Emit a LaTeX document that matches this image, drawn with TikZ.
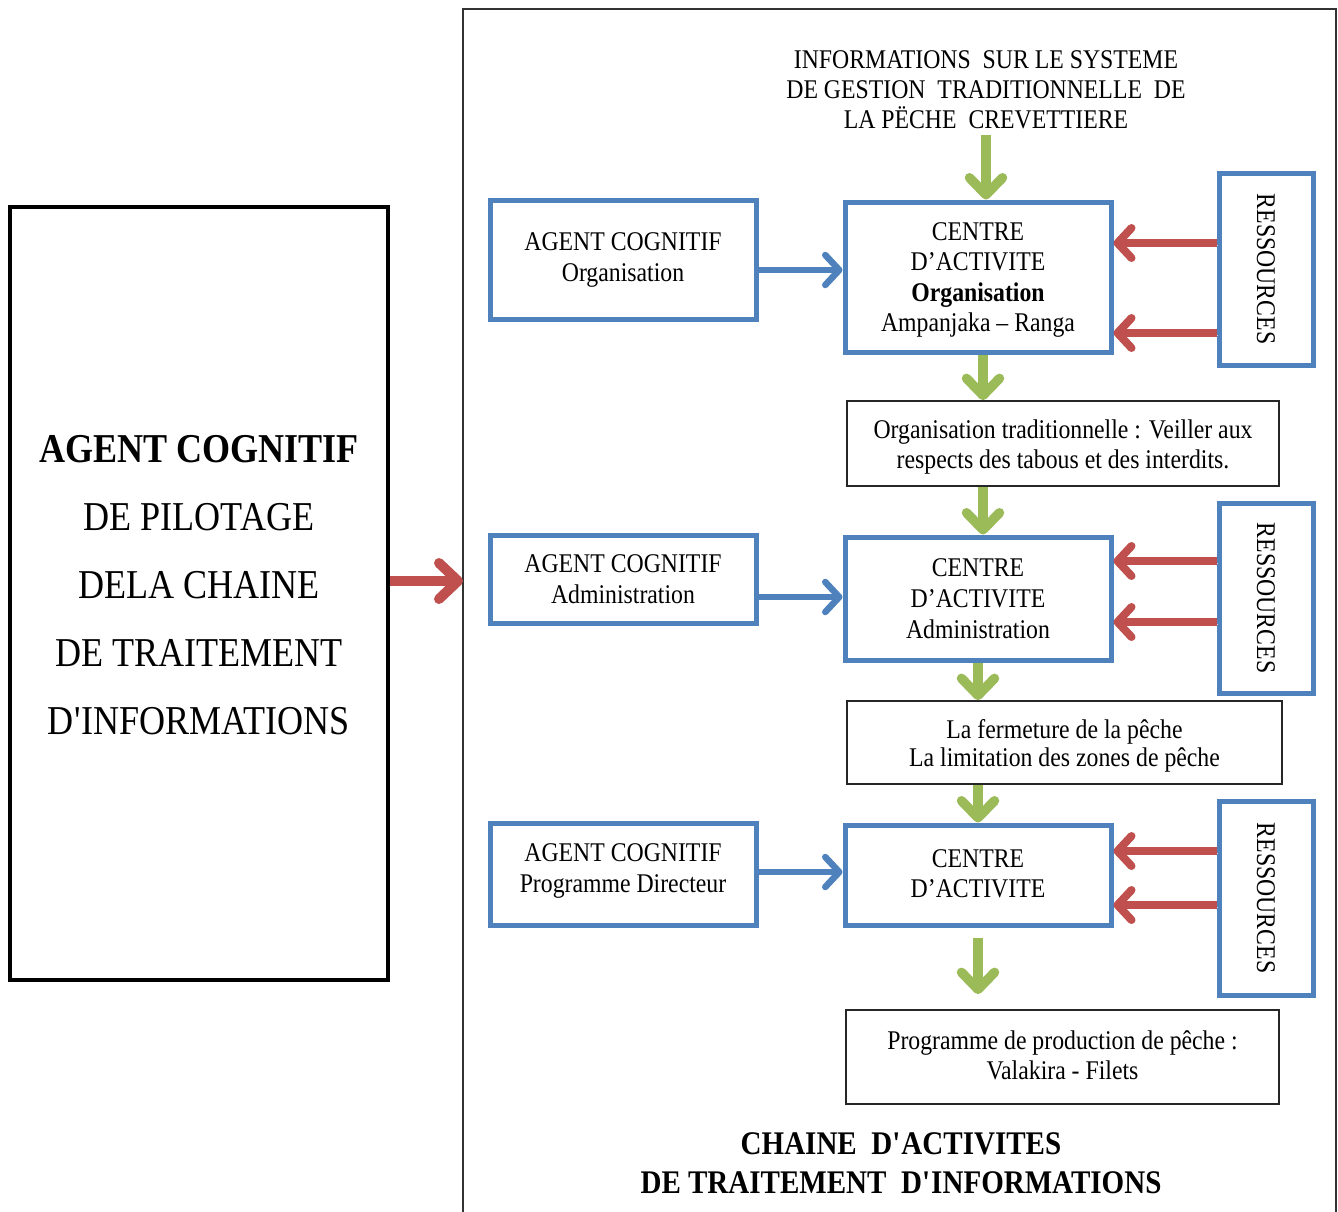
\documentclass[tikz,border=0pt]{standalone}
\usepackage{fontspec}
\setmainfont{Liberation Serif}[FakeStretch=0.88]
\usetikzlibrary{arrows.meta}
\definecolor{boxblue}{HTML}{4F81BD}
\definecolor{arrred}{HTML}{C0504D}
\definecolor{arrgreen}{HTML}{9BBB59}

\begin{document}
\begin{tikzpicture}[x=1pt,y=-1pt,
  bluebox/.style={draw=boxblue, line width=5pt, inner sep=0pt, align=center, fill=white,
                  font=\fontsize{27}{31}\selectfont},
  textbox/.style={draw=black!85, line width=1.8pt, inner sep=0pt, align=center,
                  font=\fontsize{27}{29.5}\selectfont},
  plain/.style={inner sep=0pt, align=center, font=\fontsize{27}{30}\selectfont},
  shade/.style={preaction={draw=black!18, transform canvas={shift={(1.5pt,-2pt)}}}},
  barb/.style={-{Straight Barb[length=14pt,width=30pt,line cap=round,line join=round]}},
  redarrow/.style={barb, shade, draw=arrred, line width=8pt},
  bluearrow/.style={barb, shade, draw=boxblue, line width=6.5pt},
  greenarrow/.style={-{Straight Barb[length=17pt,width=33pt,line cap=round,line join=round]},
                     shade, draw=arrgreen, line width=9.5pt},
  bigred/.style={-{Straight Barb[length=19pt,width=36pt,line cap=round,line join=round]},
                 shade, draw=arrred, line width=10pt},
]
\useasboundingbox (0,0) rectangle (1338,1211);

% outer frame of the activity chain (open at the bottom)
\draw[black!80, line width=1.8pt] (463,1230) -- (463,9) -- (1336,9) -- (1336,1230);

% piloting agent
\node[draw=black, line width=4pt, minimum width=378pt, minimum height=773pt,
      inner sep=0pt] (pilot) at (199,593.5) {};
\node[inner sep=0pt, align=center, font=\fontsize{41}{68}\selectfont] (pilott) at (199,585)
  {\textbf{AGENT COGNITIF}\\DE PILOTAGE\\DELA CHAINE\\DE TRAITEMENT\\D\textquotesingle INFORMATIONS};

% incoming information
\node[plain] (info) at (986,90)
  {INFORMATIONS\ \ SUR LE SYSTEME\\DE GESTION\ \ TRADITIONNELLE\ \ DE\\LA PËCHE\ \ CREVETTIERE};

% level 1 : organisation
\node[bluebox, minimum width=266pt, minimum height=119pt] (agorg) at (623,260)
  {AGENT COGNITIF\\Organisation};
\node[bluebox, minimum width=266pt, minimum height=150pt] (corg) at (978,277) {};
\node[inner sep=0pt, align=center, font=\fontsize{27}{30.5}\selectfont] (corgt) at (978,280)
  {CENTRE\\D’ACTIVITE\\\textbf{Organisation}\\Ampanjaka – Ranga};
\node[bluebox, minimum width=94pt, minimum height=192pt] (res1) at (1266,269) {};
\node[plain, rotate=-90] (res1t) at (res1) {RESSOURCES};
\node[textbox, minimum width=432pt, minimum height=85pt] (t1) at (1063,443.5) {};
\node[inner sep=0pt, align=center, font=\fontsize{27}{29.5}\selectfont] (t1t) at (1063,447)
  {Organisation traditionnelle : Veiller aux\\respects des tabous et des interdits.};

% level 2 : administration
\node[bluebox, minimum width=266pt, minimum height=88pt] (agadm) at (623,579)
  {AGENT COGNITIF\\Administration};
\node[bluebox, minimum width=266pt, minimum height=123pt] (cadm) at (978,598.5)
  {CENTRE\\D’ACTIVITE\\Administration};
\node[bluebox, minimum width=94pt, minimum height=190pt] (res2) at (1266,598) {};
\node[plain, rotate=-90] (res2t) at (res2) {RESSOURCES};
\node[textbox, minimum width=435pt, minimum height=83pt] (t2) at (1064.5,742.5) {};
\node[inner sep=0pt, align=center, font=\fontsize{27}{28.5}\selectfont] (t2t) at (1064.5,746)
  {La fermeture de la pêche\\La limitation des zones de pêche};

% level 3 : programme directeur
\node[bluebox, minimum width=266pt, minimum height=102pt] (agprog) at (623,874) {};
\node[inner sep=0pt, align=center, font=\fontsize{27}{31}\selectfont] (agprogt) at (623,871)
  {AGENT COGNITIF\\Programme Directeur};
\node[bluebox, minimum width=266pt, minimum height=100pt] (cprog) at (978,875) {};
\node[inner sep=0pt, align=center, font=\fontsize{27}{30}\selectfont] (cprogt) at (978,874)
  {CENTRE\\D’ACTIVITE};
\node[bluebox, minimum width=94pt, minimum height=194pt] (res3) at (1266,898) {};
\node[plain, rotate=-90] (res3t) at (res3) {RESSOURCES};
\node[textbox, minimum width=433pt, minimum height=94pt] (t3) at (1062.5,1057) {};
\node[inner sep=0pt, align=center, font=\fontsize{27}{30}\selectfont] (t3t) at (1062.5,1055)
  {Programme de production de pêche :\\Valakira - Filets};

% chain caption
\node[inner sep=0pt, align=center, font=\bfseries\fontsize{33}{39}\selectfont] (caption) at (901,1163)
  {CHAINE\ \ D\textquotesingle ACTIVITES\\DE TRAITEMENT\ \ D\textquotesingle INFORMATIONS};

% piloting link
\draw[bigred] (pilot.east |- 0,581) -- (463,581);

% agents to activity centres
\draw[bluearrow] (agorg.east |- 0,270) -- (corg.west |- 0,270);
\draw[bluearrow] (agadm.east |- 0,597) -- (cadm.west |- 0,597);
\draw[bluearrow] (agprog.east |- 0,872) -- (cprog.west |- 0,872);

% resources to activity centres
\draw[redarrow] (res1.west |- 0,243) -- (corg.east |- 0,243);
\draw[redarrow] (res1.west |- 0,333) -- (corg.east |- 0,333);
\draw[redarrow] (res2.west |- 0,561) -- (cadm.east |- 0,561);
\draw[redarrow] (res2.west |- 0,622) -- (cadm.east |- 0,622);
\draw[redarrow] (res3.west |- 0,851) -- (cprog.east |- 0,851);
\draw[redarrow] (res3.west |- 0,905) -- (cprog.east |- 0,905);

% downward flow
\draw[greenarrow] ([yshift=-6pt]info.south) -- (info.south |- corg.north);
\draw[greenarrow] ([xshift=5pt]corg.south) -- ([xshift=5pt]corg.south |- t1.north);
\draw[greenarrow] ([xshift=5pt]t1.south -| corg.south) -- ([xshift=5pt]cadm.north);
\draw[greenarrow] (cadm.south) -- (cadm.south |- t2.north);
\draw[greenarrow] (t2.south -| cprog.north) -- (cprog.north);
\draw[greenarrow] ([yshift=-10pt]cprog.south) -- ([yshift=15pt]cprog.south |- t3.north);
\end{tikzpicture}
\end{document}
